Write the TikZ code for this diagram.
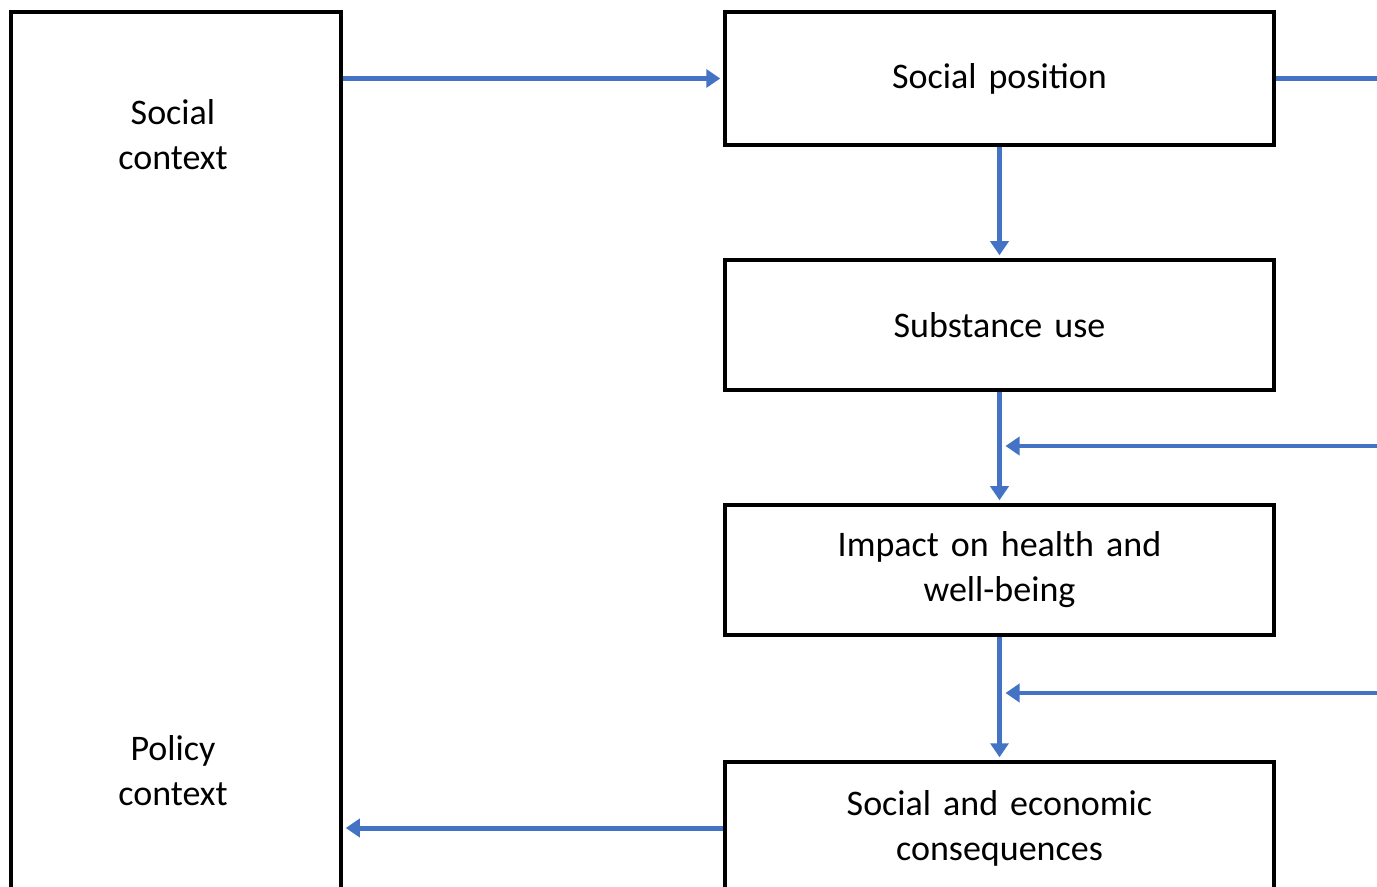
\documentclass[tikz,border=0pt]{standalone}
\usepackage{fontspec}
\setmainfont{Carlito}[WordSpace=0.8]
\usepackage{xcolor}
\usetikzlibrary{arrows.meta,positioning}
\definecolor{flowblue}{HTML}{4472C4}

\begin{document}
\begin{tikzpicture}[x=0.5pt,y=-0.5pt,
    box/.style={draw=black,line width=1.75pt,minimum width=274.5pt,inner sep=0pt,
        align=center,text width=250pt,font=\fontsize{18}{22.5}\selectfont},
    label/.style={align=center,font=\fontsize{18}{22.5}\selectfont},
    flow/.style={draw=flowblue,line width=2.5pt,-{Triangle[length=7pt,width=9pt]},shorten >=1.5pt},
    feed/.style={draw=flowblue,line width=2.5pt}]
    \clip (0,0) rectangle (1377,887);
    \fill[white] (0,0) rectangle (1377,887);

    \node[box,minimum width=165pt,minimum height=470pt,text width=150pt] (ctx) at (176,482) {};
    \node[label] (social) at (173,135) {Social\\context};
    \node[label] (policy) at (173,771) {Policy\\context};

    \node[box,minimum height=66.5pt] (pos) at (999.5,78.5) {Social position};
    \node[box,minimum height=65pt] (use) at (999.5,325) {Substance use};
    \node[box,minimum height=65pt] (hlth) at (999.5,570) {Impact on health and\\well-being};
    \node[box,minimum height=66pt] (cons) at (999.5,828) {Social and economic\\consequences};

    \coordinate (outA) at (1390,78.5);
    \coordinate (inB) at (1390,446);
    \coordinate (inC) at (1390,693);

    \draw[flow] (ctx.east |- pos.west) -- (pos.west);
    \draw[feed] (pos.east) -- (outA);
    \draw[flow] (pos.south) -- (use.north);
    \draw[flow] (use.south) -- (hlth.north);
    \draw[flow,line width=2pt,shorten >=3pt] (inB) -- (inB -| use.south);
    \draw[flow] (hlth.south) -- (cons.north);
    \draw[flow,line width=2pt,shorten >=3pt] (inC) -- (inC -| hlth.south);
    \draw[flow] (cons.west) -- (ctx.east |- cons.west);
\end{tikzpicture}
\end{document}
